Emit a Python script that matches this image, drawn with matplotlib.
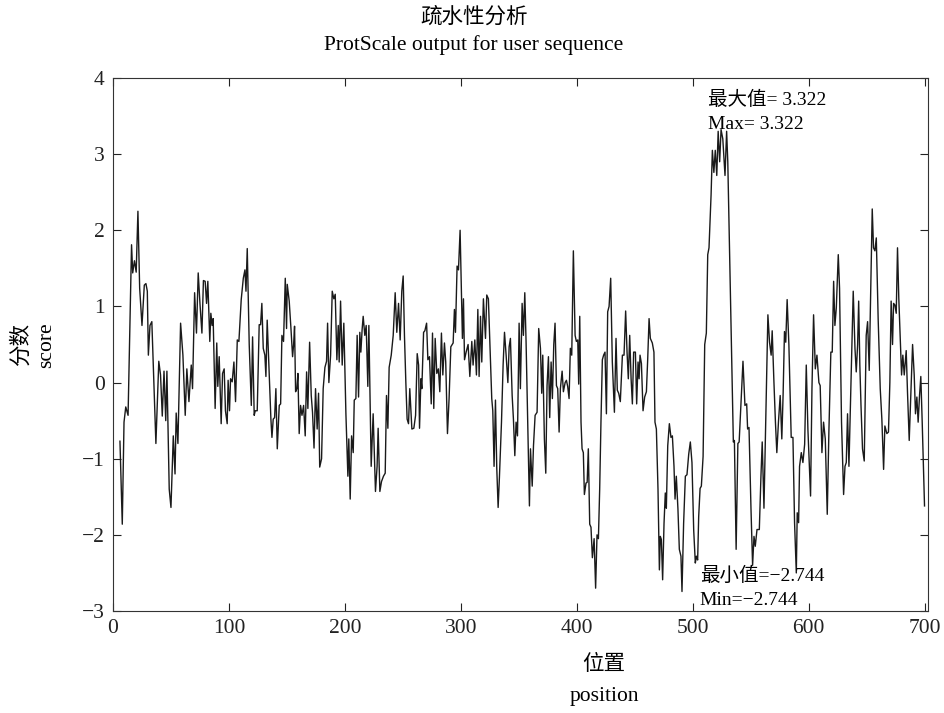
import matplotlib
matplotlib.use("Agg")
import matplotlib.pyplot as plt

# Hydropathy profile (vertices of the ProtScale trace: residue position, score)
position = [
    6, 8, 9.5, 11, 13, 16, 17, 18.5, 20, 21.5, 23, 25, 27, 28.4, 29.6, 30.5, 31.9, 33.5, 35, 37,
    39.5, 41, 42.5, 44, 45.5, 46.5, 48.5, 50, 52, 53.5, 54.5, 56, 58.3, 60.3, 62.3, 63.7, 65.5, 67.5, 68.6, 70.4,
    72, 73.5, 75, 76.7, 78, 79.5, 80.7, 81.8, 83.5, 84.4, 85.5, 86.4, 88.1, 89.5, 90.4, 91.6, 93.3, 94.5, 95.9, 97,
    98.5, 99.3, 100.5, 101.4, 102.8, 104.3, 105.7, 107.2, 108.6, 110.6, 112.4, 113.8, 114.7, 115.8, 117.5, 119.3, 120.4, 121.8, 122.7, 124.4,
    126.1, 127.3, 128.4, 129.6, 131, 131.9, 133, 134.8, 136.2, 137.1, 138.2, 139.4, 140.5, 141.7, 143.4, 144.6, 145.7, 147.1, 148.6, 149.7,
    150.3, 152, 153.5, 154.9, 155.8, 156.6, 157.5, 158.6, 159.5, 160.6, 161.8, 163, 164.4, 165.8, 167, 168.1, 169.6, 171, 172.1, 173.4,
    174.7, 176.1, 177.3, 178.3, 179.9, 181.3, 182.8, 184.2, 185.1, 186.2, 187.7, 189.1, 190.5, 191.7, 193.1, 194.3, 195.1, 196.3, 197.7, 199.1,
    200.9, 202.6, 203.4, 204.6, 205.8, 207.2, 208.1, 209.5, 210.6, 211.8, 212.9, 213.8, 214.9, 215.8, 217.2, 218.4, 219.8, 220.7, 222.7, 224.4,
    226.4, 227.8, 228.7, 230.2, 231.6, 233.3, 234.8, 235.9, 237.1, 238.2, 240, 241.7, 243.4, 244.8, 246.3, 247.7, 249.1, 250.3, 251.4, 252.6,
    253.7, 254.9, 256, 257.8, 259.5, 261, 262.4, 263.6, 264.4, 265.6, 266.4, 267.9, 269, 270.5, 271.6, 273, 274.5, 275.6, 276.7, 277.9,
    279.3, 280.7, 281.9, 283.3, 284.5, 285.9, 287, 288.5, 289.9, 291.4, 293.4, 294.5, 295.4, 296.8, 298, 299.4, 301.4, 302.3, 303.2, 304.6,
    306.3, 307.8, 309.5, 310.6, 312.1, 313.5, 314.7, 315.8, 317, 318.1, 319.5, 321.3, 322.4, 323.8, 325.6, 326.7, 327.6, 328.7, 329.9, 331,
    332.2, 333.3, 335.1, 336.5, 337.7, 339.1, 340.6, 341.7, 342.8, 344.3, 345.4, 346.6, 347.7, 348.9, 350.3, 351.4, 352.9, 354, 355.2, 356.3,
    359.2, 360.1, 361.6, 362.7, 364.1, 365.8, 367.2, 368.7, 369.8, 370.7, 372.1, 373.3, 374.4, 375.6, 376.7, 377.9, 379, 380.2, 381.3, 382.5,
    383.6, 384.8, 385.9, 387.4, 388.5, 390, 391.1, 392.2, 393.4, 394.5, 395.7, 397.1, 398.6, 399.7, 400.9, 401.7, 402.6, 403.7, 404.6, 405.7,
    406.6, 408, 409, 410, 411.2, 412.3, 413.5, 415, 416.3, 417.5, 418.7, 419.8, 420.9, 422.1, 423.2, 424.4, 425.6, 426.7, 427.9, 429.3,
    430.7, 432.5, 433.9, 435, 436.2, 437.6, 439.4, 440.8, 442.2, 443.4, 444.5, 445.7, 446.9, 448, 449.1, 450.6, 451.7, 452.9, 453.8, 454.6,
    455.8, 457.2, 458.6, 460.1, 461.2, 462.4, 463.5, 465.2, 466.6, 467.5, 468.7, 470.1, 471.3, 472.1, 473, 474.1, 475.3, 476.4, 477.3, 478.5,
    479.9, 481.3, 482.5, 483.9, 484.8, 485.9, 487.3, 488.5, 489.9, 490.8, 492.2, 493.7, 495.1, 496.6, 498, 499.4, 500.9, 502.3, 503.2, 504.3,
    505.2, 506.4, 507.5, 509, 510.4, 511.8, 513, 514.1, 515.9, 517, 518.3, 519.5, 520.8, 522, 523.3, 524.5, 526, 527.9, 529.3, 530.3,
    535.1, 536, 537.5, 539, 540.1, 543.4, 545.1, 546.6, 547.4, 548.6, 550.3, 551.7, 552.9, 554, 555.5, 557.5, 558.9, 560, 561.5, 564.9,
    566.3, 567.7, 568.6, 570, 571.4, 572.6, 574, 575.5, 576.9, 578, 579.2, 580.3, 581.5, 583, 585, 586.5, 587.9, 589.4, 590.2, 591.4,
    592.2, 593.7, 595.1, 596.6, 598, 599.4, 601.7, 602.9, 604.3, 605.8, 607.2, 608.9, 610, 611.5, 612.9, 614.4, 616.1, 617.5, 619.2, 620.4,
    621.6, 622.7, 623.9, 625.6, 626.7, 628.4, 630.2, 631.4, 632.5, 633.6, 634.8, 636.2, 637.4, 638.5, 640, 641.1, 642.3, 643.2, 644.2, 645.2,
    646.5, 648, 649.7, 650.9, 652.3, 653.7, 654.9, 656, 657.2, 658.4, 660, 661.8, 663.2, 664.7, 665.8, 667.5, 668.9, 670.1, 671.2, 672.4,
    673.3, 674.4, 675.6, 676.7, 677.8, 679, 680.2, 681.3, 682.5, 684.2, 685.3, 686.8, 688.2, 689.7, 691.1, 692.2, 693.4, 694.5, 695.7, 696.8,
    698, 700,
]

score = [
    -0.77, -1.86, -0.52, -0.32, -0.43, 1.81, 1.44, 1.6, 1.45, 2.25, 1.24, 0.75, 1.28, 1.3, 1.2, 0.36, 0.75, 0.8, 0.12, -0.8,
    0.28, 0.1, -0.44, 0.15, -0.5, 0.15, -1.4, -1.64, -0.7, -1.2, -0.4, -0.8, 0.78, 0.36, -0.43, 0.18, -0.25, 0.23, -0.08, 1.18,
    0.65, 1.44, 1.04, 0.65, 1.34, 1.33, 1.04, 1.33, 0.54, 0.91, 0.75, 0.84, -0.34, 0.52, -0.05, 0.34, -0.54, 0.12, 0.18, -0.37,
    -0.54, 0.03, -0.37, 0.05, 0.01, 0.27, -0.25, 0.56, 0.54, 1.09, 1.37, 1.48, 1.2, 1.76, 0.5, -0.3, 0.6, -0.43, -0.37, -0.37,
    0.76, 0.76, 1.04, 0.45, 0.36, 0.08, 0.82, 0.1, -0.48, -0.72, -0.48, -0.46, -0.08, -0.87, -0.3, -0.28, 0.62, 0.54, 1.37, 0.71,
    1.29, 1.07, 0.71, 0.34, 0.5, 0.74, -0.12, -0.08, 0.12, -0.67, -0.3, -0.43, -0.3, -0.7, 0.14, -0.34, 0.53, -0.17, -0.39, -0.86,
    -0.08, -0.61, -0.14, -1.11, -1.0, -0.08, 0.2, 0.28, 0.78, 0.0, 0.36, 1.2, 1.1, 1.16, 0.3, 0.75, 0.27, 1.07, 0.23, 0.78,
    -0.41, -1.23, -0.74, -1.53, -0.7, -0.92, -0.23, -0.21, 0.62, -0.19, 0.66, 0.4, 0.7, 0.87, 0.62, 0.75, -0.05, 0.75, -1.1, -0.41,
    -1.43, -1.1, -0.6, -1.43, -1.3, -1.23, -1.19, -0.17, -0.6, 0.2, 0.36, 0.62, 1.18, 0.66, 1.04, 0.56, 1.2, 1.4, 0.62, 0.0,
    -0.48, -0.54, -0.08, -0.61, -0.6, -0.43, 0.38, 0.23, -0.6, 0.05, -0.08, 0.66, 0.68, 0.78, 0.3, 0.34, -0.28, 0.65, -0.34, 0.58,
    0.12, 0.18, -0.12, 0.65, 0.1, 0.52, 0.27, -0.67, -0.21, 0.47, 0.52, 0.96, 0.66, 1.53, 1.48, 2.0, 0.58, 1.1, 0.3, 0.4,
    0.5, 0.08, 0.54, 0.23, 0.56, 0.1, 0.96, 0.08, 0.87, 0.27, 1.1, 0.58, 1.15, 1.1, 0.27, -0.21, -0.37, -1.1, -0.23, -1.11,
    -1.64, -1.25, -0.52, 0.23, 0.66, 0.36, 0.0, 0.47, 0.58, -0.17, -0.48, -0.96, -0.52, -0.7, 0.78, -0.08, 1.04, 0.62, 1.18, 0.54,
    -1.62, -0.87, -1.36, -0.83, -0.43, -0.39, 0.71, 0.45, -0.14, 0.36, -0.74, -1.19, -0.04, 0.34, -0.46, 0.27, -0.21, 0.5, 0.78, -0.04,
    -0.08, -0.65, -0.08, 0.15, -0.12, 0.0, 0.03, -0.05, -0.21, 0.45, 0.36, 1.73, 0.62, 0.54, 0.56, -0.02, 0.87, -0.52, -0.87, -0.92,
    -1.47, -1.32, -1.31, -0.87, -1.86, -1.9, -2.3, -2.05, -2.7, -2.0, -2.05, -1.4, -0.52, 0.3, 0.36, 0.4, -0.41, 0.93, 1.0, 1.37,
    0.27, -0.39, 0.58, -0.1, -0.14, -0.25, 0.36, 0.36, 0.94, 0.4, 0.05, 0.62, 0.05, -0.28, 0.4, 0.4, -0.28, 0.27, 0.05, 0.36,
    0.25, -0.37, -0.19, -0.12, 0.3, 0.84, 0.58, 0.52, 0.4, -0.52, -0.61, -1.4, -2.46, -2.02, -2.06, -2.59, -1.85, -1.45, -1.65, -0.83,
    -0.54, -0.72, -0.7, -1.1, -1.53, -1.23, -1.66, -2.19, -2.28, -2.744, -1.85, -1.23, -1.21, -0.94, -0.78, -1.05, -1.94, -2.37, -2.28, -2.33,
    -1.76, -1.39, -1.36, -0.97, 0.5, 0.65, 1.68, 1.77, 2.47, 3.05, 2.76, 3.05, 2.72, 3.3, 2.9, 3.322, 3.2, 2.72, 3.3, 2.9,
    -0.78, -0.76, -2.19, -0.8, -0.78, 0.28, -0.3, -0.28, -0.61, -0.59, -1.65, -2.4, -2.02, -2.15, -1.93, -1.93, -1.23, -0.78, -1.65, 0.89,
    0.53, 0.36, 0.68, 0.05, -0.52, -0.92, -0.52, -0.17, -0.74, -0.17, 0.67, 0.53, 1.09, 0.5, -0.72, -0.72, -1.84, -2.5, -1.71, -1.84,
    -1.1, -0.92, -1.05, -0.81, 0.23, -0.61, -1.49, -0.08, 0.89, 0.18, 0.36, 0.0, -0.04, -0.92, -0.52, -0.74, -1.73, -0.65, 0.4, 0.4,
    1.33, 0.75, 0.98, 1.68, 1.24, -0.52, -1.47, -1.1, -1.05, -0.41, -1.1, -0.21, 0.58, 1.2, 0.45, 0.14, 0.5, 1.07, 0.23, -0.3,
    -0.87, -1.03, 0.62, 0.8, 0.16, 1.33, 2.28, 1.77, 1.73, 1.9, 0.84, -0.08, -0.48, -1.14, -0.57, -0.67, -0.65, 0.0, 1.07, 0.5,
    1.04, 1.02, 0.91, 1.77, 1.11, 0.62, 0.1, 0.36, 0.1, 0.42, -0.12, -0.76, -0.17, 0.5, 0.1, -0.41, -0.19, -0.52, -0.17, 0.08,
    -0.52, -1.62,
]

x_ticks = [0, 100, 200, 300, 400, 500, 600, 700]
y_ticks = [-3, -2, -1, 0, 1, 2, 3, 4]

max_value = 3.322
min_value = -2.744

FONT = ["Liberation Serif", "Noto Sans CJK SC", "DejaVu Sans"]
plt.rcParams["font.family"] = FONT
plt.rcParams["axes.unicode_minus"] = True

W, H = 944, 713
fig = plt.figure(figsize=(W / 100, H / 100), dpi=100)
left, right, top, bottom = 113, 928, 78, 611
ax = fig.add_axes([left / W, 1 - bottom / H, (right - left) / W, (bottom - top) / H])

ax.plot(position, score, color="#1a1a1a", linewidth=1.0)

ax.set_xlim(0, 703)
ax.set_ylim(-3, 4)
ax.set_xticks(x_ticks)
ax.set_yticks(y_ticks)
ax.tick_params(direction="in", length=6, width=0.8, labelsize=15.5,
               top=True, right=True, colors="#222222", pad=6)
for s in ax.spines.values():
    s.set_linewidth(0.8)
    s.set_color("#333333")

# titles and axis labels (Chinese line above English line)
title_x = 474 / W
fig.text(title_x, 1 - 18 / H, "疏水性分析", ha="center", va="center", fontsize=15.5, fontweight="light")
fig.text(title_x, 1 - 45 / H, "ProtScale output for user sequence", ha="center", va="center", fontsize=15.5)
xlabel_x = 604 / W
fig.text(xlabel_x, 1 - 665 / H, "位置", ha="center", va="center", fontsize=15.5, fontweight="light")
fig.text(xlabel_x, 1 - 697 / H, "position", ha="center", va="center", fontsize=15.5)
cy = 1 - 345 / H
fig.text(22 / W, cy, "分数", ha="center", va="center", rotation=90, fontsize=15.5, fontweight="light")
fig.text(47 / W, cy, "score", ha="center", va="center", rotation=90, fontsize=15.5)

# extreme value annotations
ax.text(513, 3.71, f"最大值= {max_value:.3f}", fontsize=14, va="center", ha="left", fontweight="light")
ax.text(513, 3.39, f"Max= {max_value:.3f}", fontsize=14, va="center", ha="left")
ax.text(506, -2.54, f"最小值=\u2212{abs(min_value):.3f}", fontsize=14, va="center", ha="left", fontweight="light")
ax.text(506, -2.86, f"Min=\u2212{abs(min_value):.3f}", fontsize=14, va="center", ha="left")

fig.savefig("out.png", dpi=100)
